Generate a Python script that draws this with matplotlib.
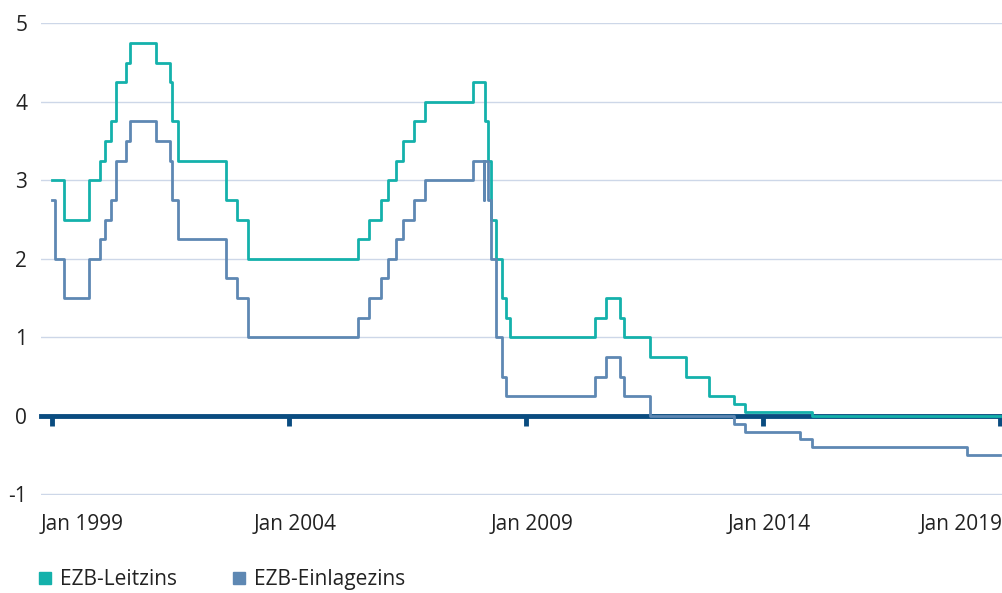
import matplotlib
matplotlib.use("Agg")
import matplotlib.pyplot as plt
import matplotlib.dates as mdates
from matplotlib.lines import Line2D
import numpy as np
import pandas as pd

plt.rcParams['font.family'] = ['Open Sans', 'DejaVu Sans']
plt.rcParams['axes.unicode_minus'] = False

# EZB-Leitzins (Hauptrefinanzierungssatz), Aenderungsdaten
leitzins_dates = ['1999-01-01', '1999-04-09', '1999-11-05', '2000-02-04', '2000-03-17',
                  '2000-04-28', '2000-06-09', '2000-09-01', '2000-10-06', '2001-05-11',
                  '2001-08-31', '2001-09-18', '2001-11-09', '2002-12-06', '2003-03-07',
                  '2003-06-06', '2005-12-06', '2006-03-08', '2006-06-15', '2006-08-09',
                  '2006-10-11', '2006-12-13', '2007-03-14', '2007-06-13', '2008-07-09',
                  '2008-10-15', '2008-11-12', '2008-12-10', '2009-01-21', '2009-03-11',
                  '2009-04-08', '2009-05-13', '2011-04-13', '2011-07-13', '2011-11-09',
                  '2011-12-14', '2012-07-11', '2013-05-08', '2013-11-13', '2014-06-11',
                  '2014-09-10', '2016-03-16', '2020-06-15']
leitzins = [3.00, 2.50, 3.00, 3.25, 3.50,
            3.75, 4.25, 4.50, 4.75, 4.50,
            4.25, 3.75, 3.25, 2.75, 2.50,
            2.00, 2.25, 2.50, 2.75, 3.00,
            3.25, 3.50, 3.75, 4.00, 4.25,
            3.75, 3.25, 2.50, 2.00, 1.50,
            1.25, 1.00, 1.25, 1.50, 1.25,
            1.00, 0.75, 0.50, 0.25, 0.15,
            0.05, 0.00, 0.00]

# EZB-Einlagezins
einlage_dates = ['1999-01-01', '1999-01-22', '1999-04-09', '1999-11-05', '2000-02-04',
                 '2000-03-17', '2000-04-28', '2000-06-09', '2000-09-01', '2000-10-06',
                 '2001-05-11', '2001-08-31', '2001-09-18', '2001-11-09', '2002-12-06',
                 '2003-03-07', '2003-06-06', '2005-12-06', '2006-03-08', '2006-06-15',
                 '2006-08-09', '2006-10-11', '2006-12-13', '2007-03-14', '2007-06-13',
                 '2008-07-09', '2008-10-08', '2008-10-09', '2008-11-12', '2008-12-10',
                 '2009-01-21', '2009-03-11', '2009-04-08', '2011-04-13', '2011-07-13',
                 '2011-11-09', '2011-12-14', '2012-07-11', '2014-06-11', '2014-09-10',
                 '2015-12-09', '2016-03-16', '2019-09-18', '2020-06-15']
einlage = [2.75, 2.00, 1.50, 2.00, 2.25,
           2.50, 2.75, 3.25, 3.50, 3.75,
           3.50, 3.25, 2.75, 2.25, 1.75,
           1.50, 1.00, 1.25, 1.50, 1.75,
           2.00, 2.25, 2.50, 2.75, 3.00,
           3.25, 2.75, 3.25, 2.75, 2.00,
           1.00, 0.50, 0.25, 0.50, 0.75,
           0.50, 0.25, 0.00, -0.10, -0.20,
           -0.30, -0.40, -0.50, -0.50]

tick_labels = ['Jan 1999', 'Jan 2004', 'Jan 2009', 'Jan 2014', 'Jan 2019']
y_ticks = [-1, 0, 1, 2, 3, 4, 5]

teal = '#14b1ab'
blue = '#5e88b3'
dark = '#0a4c80'
grid = '#cdd7e8'

ld = pd.to_datetime(leitzins_dates)
ed = pd.to_datetime(einlage_dates)

fig = plt.figure(figsize=(10.03, 5.93), dpi=100)
ax = fig.add_axes([0.041, 0.165, 0.959, 0.797])

ax.step(ld, leitzins, where='post', color=teal, lw=2.0, zorder=3)
ax.step(ed, einlage, where='post', color=blue, lw=2.0, zorder=3)

start, end = ld[0], ld[-1]
ax.set_xlim(start - pd.Timedelta(days=91), end + pd.Timedelta(days=25))
ax.set_ylim(-1.01, 5.01)

ticks = [start + (end - start) * k / 4 for k in range(5)]
ax.set_xticks(ticks)
ax.tick_params(axis='x', direction='out', length=7, width=3.5, color=dark,
               labelbottom=False)
ax.set_yticks(y_ticks)
ax.set_yticklabels([str(v) for v in y_ticks])
ax.tick_params(axis='y', length=0, pad=10, labelsize=15, labelcolor='#222222')

ax.grid(axis='y', color=grid, lw=1.0)
ax.set_axisbelow(True)
for s in ['top', 'right', 'left']:
    ax.spines[s].set_visible(False)
ax.spines['bottom'].set_position(('data', 0))
ax.spines['bottom'].set_color(dark)
ax.spines['bottom'].set_linewidth(3.5)

trans = ax.get_xaxis_transform()
for i, (t, lab) in enumerate(zip(ticks, tick_labels)):
    if i == 0:
        ax.text(0.0, -0.04, lab, transform=ax.transAxes, ha='left', va='top',
                fontsize=15, color='#222222')
    elif i == len(ticks) - 1:
        ax.text(1.0, -0.04, lab, transform=ax.transAxes, ha='right', va='top',
                fontsize=15, color='#222222')
    else:
        ax.text(mdates.date2num(t) + 50, -0.04, lab, transform=trans, ha='center',
                va='top', fontsize=15, color='#222222')

handles = [Line2D([], [], marker='s', ls='none', color=teal, markersize=9),
           Line2D([], [], marker='s', ls='none', color=blue, markersize=9)]
fig.legend(handles, ['EZB-Leitzins', 'EZB-Einlagezins'], loc='lower left',
           bbox_to_anchor=(0.018, -0.027), ncol=2, frameon=False, fontsize=15,
           handlelength=0.8, handletextpad=0.3, columnspacing=2.6,
           labelcolor='#222222')

fig.savefig('out.png', dpi=100)
